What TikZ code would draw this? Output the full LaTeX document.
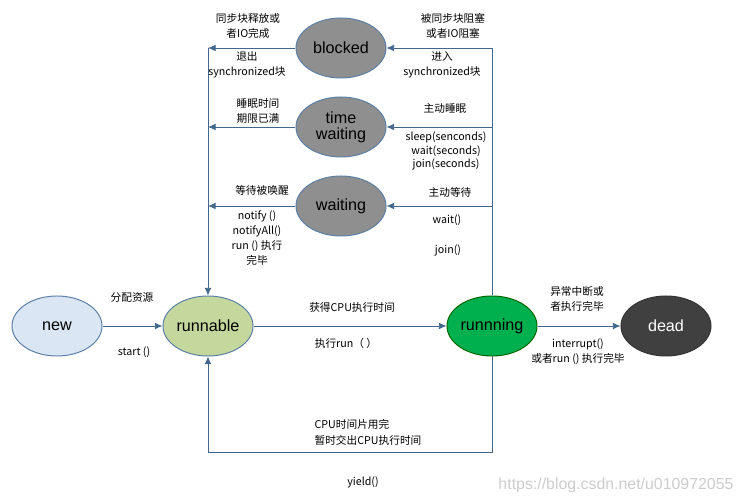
\documentclass[tikz,border=0pt]{standalone}
\usepackage{fontspec}
\setmainfont{Noto Sans CJK SC}
\newfontfamily\arial{Liberation Sans}
\usepackage{tikz}
\usetikzlibrary{arrows.meta, positioning, shapes.geometric}

\definecolor{lineblue}{HTML}{41678C}
\definecolor{rimblue}{HTML}{5B7FA6}
\definecolor{newfill}{HTML}{DAE6F3}
\definecolor{runfill}{HTML}{C4D89E}
\definecolor{grayfill}{HTML}{8F8F8F}
\definecolor{greenfill}{HTML}{00B04F}
\definecolor{deadfill}{HTML}{404040}

\begin{document}
\begin{tikzpicture}[x=0.025cm, y=-0.025cm, >={Latex[length=5.5pt,width=5pt]},
  state/.style={ellipse, draw=rimblue, line width=0.7pt, minimum width=2.25cm, minimum height=1.5cm,
    inner sep=0pt, align=center, font=\arial\fontsize{11.5}{12.5}\selectfont},
  lbl/.style={align=center, inner sep=0pt, font=\fontsize{7.6}{10.5}\selectfont},
  arr/.style={->, draw=lineblue, line width=0.7pt}]
\useasboundingbox (0,0) rectangle (739,497);

% states
\node (new) [state, fill=newfill] at (57,326) {new};
\node (runnable) [state, fill=runfill] at (208,326) {runnable};
\node (running) [state, fill=greenfill, draw=green!40!black] at (492,326) {runnning};
\node (dead) [state, fill=deadfill, draw=deadfill!80!black, text=white] at (666,326) {dead};
\node (blocked) [state, fill=grayfill] at (341,48) {blocked};
\node (twait) [state, fill=grayfill, font=\arial\fontsize{11.5}{11.5}\selectfont] at (341,127) {time\\waiting};
\node (wait) [state, fill=grayfill] at (341,206) {waiting};

% corners of the two side lines and the bottom loop
\coordinate (lt) at (runnable.north |- blocked.west);
\coordinate (ltw) at (runnable.north |- twait.west);
\coordinate (lw) at (runnable.north |- wait.west);
\coordinate (rtw) at (running.north |- twait.east);
\coordinate (rw) at (running.north |- wait.east);
\coordinate (br) at (492,452);
\coordinate (bl) at (208,452);

\draw[arr] (new) -- (runnable);
\draw[arr] (runnable) -- (running);
\draw[arr] (running) -- (dead);

\draw[arr] (running.north) |- (blocked.east);
\draw[arr] (rtw) -- (twait.east);
\draw[arr] (rw) -- (wait.east);

\draw[arr] (blocked.west) -- (lt);
\draw[arr] (lt) -- (runnable.north);
\draw[arr] (twait.west) -- (ltw);
\draw[arr] (wait.west) -- (lw);

\draw[arr] (running.south) -- (br) -- (bl) -- (runnable.south);

% labels
\node (relB) [lbl] at (248,26) {同步块释放或\\者IO完成};
\node (exitB) [lbl] at (247,65) {退出\\synchronized块};
\node (getB) [lbl] at (453,26) {被同步块阻塞\\或者IO阻塞};
\node (enterB) [lbl] at (442,65) {进入\\synchronized块};
\node (timeUp) [lbl] at (258,111) {睡眠时间\\期限已满};
\node (sleepT) [lbl] at (445,108) {主动睡眠};
\node (sleepC) [lbl, font=\fontsize{7.6}{9.8}\selectfont] at (446,151) {sleep(senconds)\\wait(seconds)\\join(seconds)};
\node (wakeW) [lbl] at (262,190) {等待被唤醒};
\node (notifyC) [lbl] at (257,238) {notify ()\\notifyAll()\\run () 执行\\完毕};
\node (waitT) [lbl] at (450,192) {主动等待};
\node (waitC) [lbl] at (447,220) {wait()};
\node (joinC) [lbl] at (448,250) {join()};
\node (alloc) [lbl] at (132,297) {分配资源};
\node (startC) [lbl] at (134,352) {start ()};
\node (getCPU) [lbl] at (352,307) {获得CPU执行时间};
\node (runC) [lbl] at (346,343) {执行run（ ）};
\node (endT) [lbl] at (577,299) {异常中断或\\者执行完毕};
\node (endC) [lbl] at (578,352) {interrupt()\\或者run () 执行完毕};
\node (sliceT) [lbl] at (352,424) {CPU时间片用完};
\node (yieldT) [lbl] at (368,440) {暂时交出CPU执行时间};
\node (yieldC) [lbl] at (363,482) {yield()};
\node (mark) [lbl, text=gray!40, font=\arial\fontsize{11.3}{13}\selectfont] at (616,485) {https://blog.csdn.net/u010972055};
\end{tikzpicture}
\end{document}
